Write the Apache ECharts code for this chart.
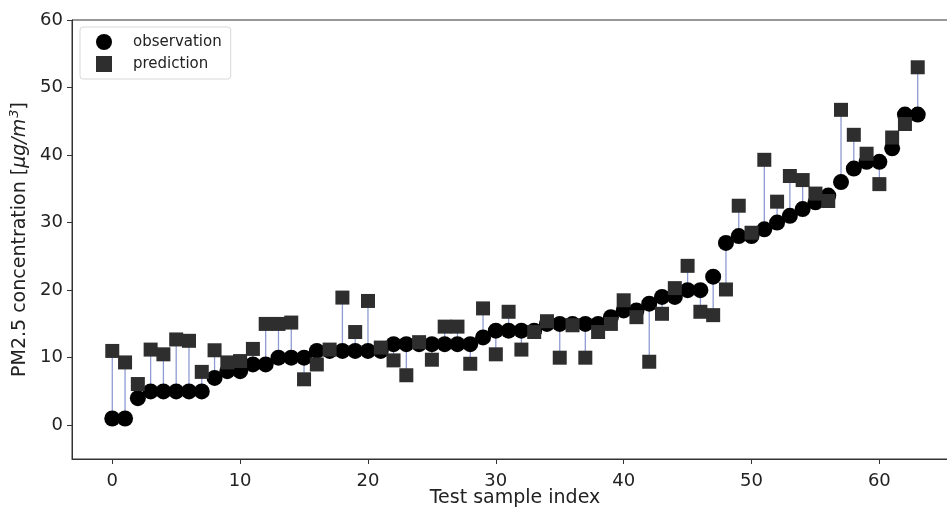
<!DOCTYPE html>
<html>
<head>
<meta charset="utf-8">
<script src="https://cdn.jsdelivr.net/npm/echarts@6/dist/echarts.min.js"></script>
<style>
html,body{margin:0;padding:0;background:#fff;}
#chart{width:947px;height:511px;}
</style>
</head>
<body>
<div id="chart"></div>
<script>
// Observed PM2.5 per test sample (index = position)
var observation = [1,1,4,5,5,5,5,5,7,8,8,9,9,10,10,10,11,11,11,11,11,11,12,12,12,12,12,12,12,13,14,14,14,14,15,15,15,15,15,16,17,17,18,19,19,20,20,22,27,28,28,29,30,31,32,33,34,36,38,39,39,41,46,46];
// Predicted PM2.5 per test sample
var prediction = [11.0,9.3,6.1,11.2,10.5,12.7,12.5,7.9,11.1,9.3,9.5,11.3,15.0,15.0,15.2,6.8,9.0,11.2,18.9,13.8,18.4,11.5,9.6,7.4,12.3,9.7,14.6,14.6,9.1,17.3,10.5,16.8,11.2,13.8,15.4,10.0,14.8,10.0,13.8,15.0,18.5,16.0,9.4,16.5,20.3,23.6,16.8,16.3,20.1,32.5,28.5,39.3,33.1,36.9,36.3,34.3,33.2,46.7,43.0,40.2,35.7,42.6,44.6,53.0];
var xTicks = [0,10,20,30,40,50,60];
var yTicks = [0,10,20,30,40,50,60];

var obsData = observation.map(function(v,i){return [i,v];});
var predData = prediction.map(function(v,i){return [i,v];});
var lineData = observation.map(function(v,i){return [i,v,prediction[i]];});

var FONT = 'DejaVu Sans';
var chart = echarts.init(document.getElementById('chart'), null, {renderer:'canvas'});
chart.setOption({
  animation:false,
  backgroundColor:'#fff',
  textStyle:{fontFamily:FONT},
  grid:{left:72, top:20, width:886, bottom:52, show:true, borderColor:'#333', borderWidth:1,
        containLabel:false, outerBoundsMode:'none'},
  legend:{
    orient:'vertical', left:80, top:27,
    padding:[7,9,7,16],
    itemWidth:16, itemHeight:16, itemGap:6,
    borderColor:'#d8d8d8', borderWidth:1, borderRadius:3,
    backgroundColor:'rgba(255,255,255,0.8)',
    textStyle:{fontFamily:FONT, fontSize:15, color:'#222', padding:[0,0,0,16]},
    data:[{name:'observation', icon:'circle'},{name:'prediction', icon:'rect', itemStyle:{color:'#2e2e2e'}}]
  },
  xAxis:{
    type:'value', min:-3.15, max:66.15,
    name:'Test sample index', nameLocation:'middle', nameGap:30, nameMoveOverlap:false,
    nameTextStyle:{fontFamily:FONT, fontSize:19, color:'#222'},
    axisLine:{show:true, onZero:false, lineStyle:{color:'#333', width:1}},
    axisTick:{show:true, inside:false, length:5, lineStyle:{color:'#333'}, customValues:xTicks},
    axisLabel:{fontFamily:FONT, fontSize:18, color:'#222', margin:13, customValues:xTicks},
    splitLine:{show:false}
  },
  yAxis:{
    type:'value', min:-5, max:60,
    name:'PM2.5 concentration [{i|μg/m}{s|3}]', nameLocation:'middle', nameGap:40, nameRotate:90,
    nameTextStyle:{fontFamily:FONT, fontSize:19, color:'#222',
      rich:{i:{fontFamily:FONT, fontSize:19, fontStyle:'italic', color:'#222'},
            s:{fontFamily:FONT, fontSize:13, fontStyle:'italic', color:'#222', verticalAlign:'top', padding:[0,0,10,1]}}},
    axisLine:{show:true, onZero:false, lineStyle:{color:'#333', width:1}},
    axisTick:{show:true, inside:false, length:5, lineStyle:{color:'#333'}, customValues:yTicks},
    axisLabel:{fontFamily:FONT, fontSize:18, color:'#222', margin:9, customValues:yTicks},
    splitLine:{show:false}
  },
  series:[
    {
      type:'custom', name:'gap', silent:true, z:1,
      data:lineData,
      encode:{x:0, y:[1,2]},
      renderItem:function(params, api){
        var p1 = api.coord([api.value(0), api.value(1)]);
        var p2 = api.coord([api.value(0), api.value(2)]);
        return {type:'line', shape:{x1:p1[0], y1:p1[1], x2:p2[0], y2:p2[1]},
                style:{stroke:'#8e9bd3', lineWidth:1.3}};
      }
    },
    {
      type:'scatter', name:'observation', z:2,
      symbol:'circle', symbolSize:16,
      itemStyle:{color:'#000', opacity:1},
      data:obsData
    },
    {
      type:'scatter', name:'prediction', z:3,
      symbol:'rect', symbolSize:14,
      itemStyle:{color:'#2e2e2e', opacity:1},
      data:predData
    }
  ]
});
</script>
</body>
</html>
